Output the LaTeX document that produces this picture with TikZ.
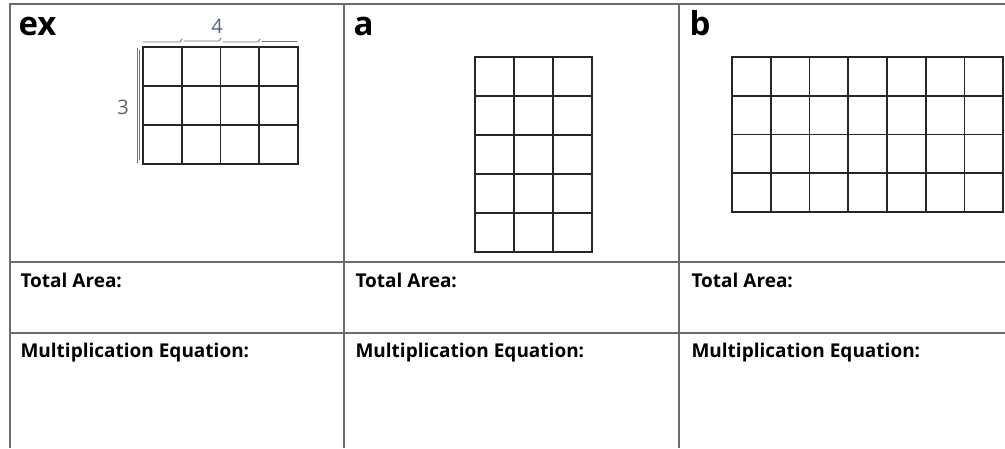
\documentclass[tikz,border=0pt]{standalone}
\usepackage{fontspec}
\setmainfont{Open Sans}
\usepackage{tikz}

\begin{document}
\begin{tikzpicture}[x=1pt, y=1pt,
  frame/.style={draw=black!58, line width=1.7pt},
  cell/.style={draw=black!85, line width=1.8pt, line cap=rect},
  hand/.style={draw=black!55, line width=0.9pt, line cap=round},
  handtext/.style={font=\fontsize{20}{20}\selectfont},
  tag/.style={anchor=base west, font=\bfseries\fontsize{33}{33}\selectfont},
  prompt/.style={anchor=base west, font=\bfseries\fontsize{19}{19}\selectfont}]
\useasboundingbox (0,0) rectangle (1005,-448);

% Column and row positions
\def\colA{10}
\def\colB{344}
\def\colC{679}
\def\rowTop{-4}
\def\rowArea{-262}
\def\rowEqn{-333}

% Table frame (cut off at right and bottom)
\draw[frame] (\colA,-448) -- (\colA,\rowTop) -- (1005,\rowTop);
\draw[frame] (\colB,-448) -- (\colB,\rowTop);
\draw[frame] (\colC,-448) -- (\colC,\rowTop);
\draw[frame] (\colA,\rowArea) -- (1005,\rowArea);
\draw[frame] (\colA,\rowEqn) -- (1005,\rowEqn);

% Grid ex: 4 x 3
\foreach \i in {0,...,4} \draw[cell] (143+38.75*\i,-47) -- (143+38.75*\i,-164);
\foreach \j in {0,...,3} \draw[cell] (143,-47-39*\j) -- (298,-47-39*\j);

% Grid a: 3 x 5
\foreach \i in {0,...,3} \draw[cell] (475+39*\i,-57) -- (475+39*\i,-252);
\foreach \j in {0,...,5} \draw[cell] (475,-57-39*\j) -- (592,-57-39*\j);

% Grid b: 7 x 4
\foreach \i in {0,...,7} \draw[cell] (732+38.75*\i,-57) -- (732+38.75*\i,-212);
\foreach \j in {0,...,4} \draw[cell] (732,-57-38.75*\j) -- (1003,-57-38.75*\j);

% Hand-drawn side marks on the example
\draw[hand] (143,-42) -- (180,-42) -- (182,-39);
\draw[hand] (184,-41) -- (219,-41) -- (221,-38);
\draw[hand] (223,-42) -- (258,-42) -- (260,-39);
\draw[hand] (262,-41) -- (297,-41);
\draw[hand] (137,-48) -- (137,-163);
\draw[hand] (139.5,-50) -- (139.5,-160);
\node[handtext, text={rgb,1:red,0.33;green,0.39;blue,0.54}] (four) at (217,-26) {4};
\node[handtext, text=black!62] (three) at (123,-107) {3};

% Column tags
\node[tag] (ex) at (15,-35) {ex};
\node[tag] (a) at (350,-35) {a};
\node[tag] (b) at (686,-35) {b};

% Prompts
\node[prompt] (areaex) at (17,-287) {Total Area:};
\node[prompt] (areaa) at (352,-287) {Total Area:};
\node[prompt] (areab) at (688,-287) {Total Area:};
\node[prompt] (eqnex) at (17,-357) {Multiplication Equation:};
\node[prompt] (eqna) at (352,-357) {Multiplication Equation:};
\node[prompt] (eqnb) at (688,-357) {Multiplication Equation:};
\end{tikzpicture}
\end{document}
